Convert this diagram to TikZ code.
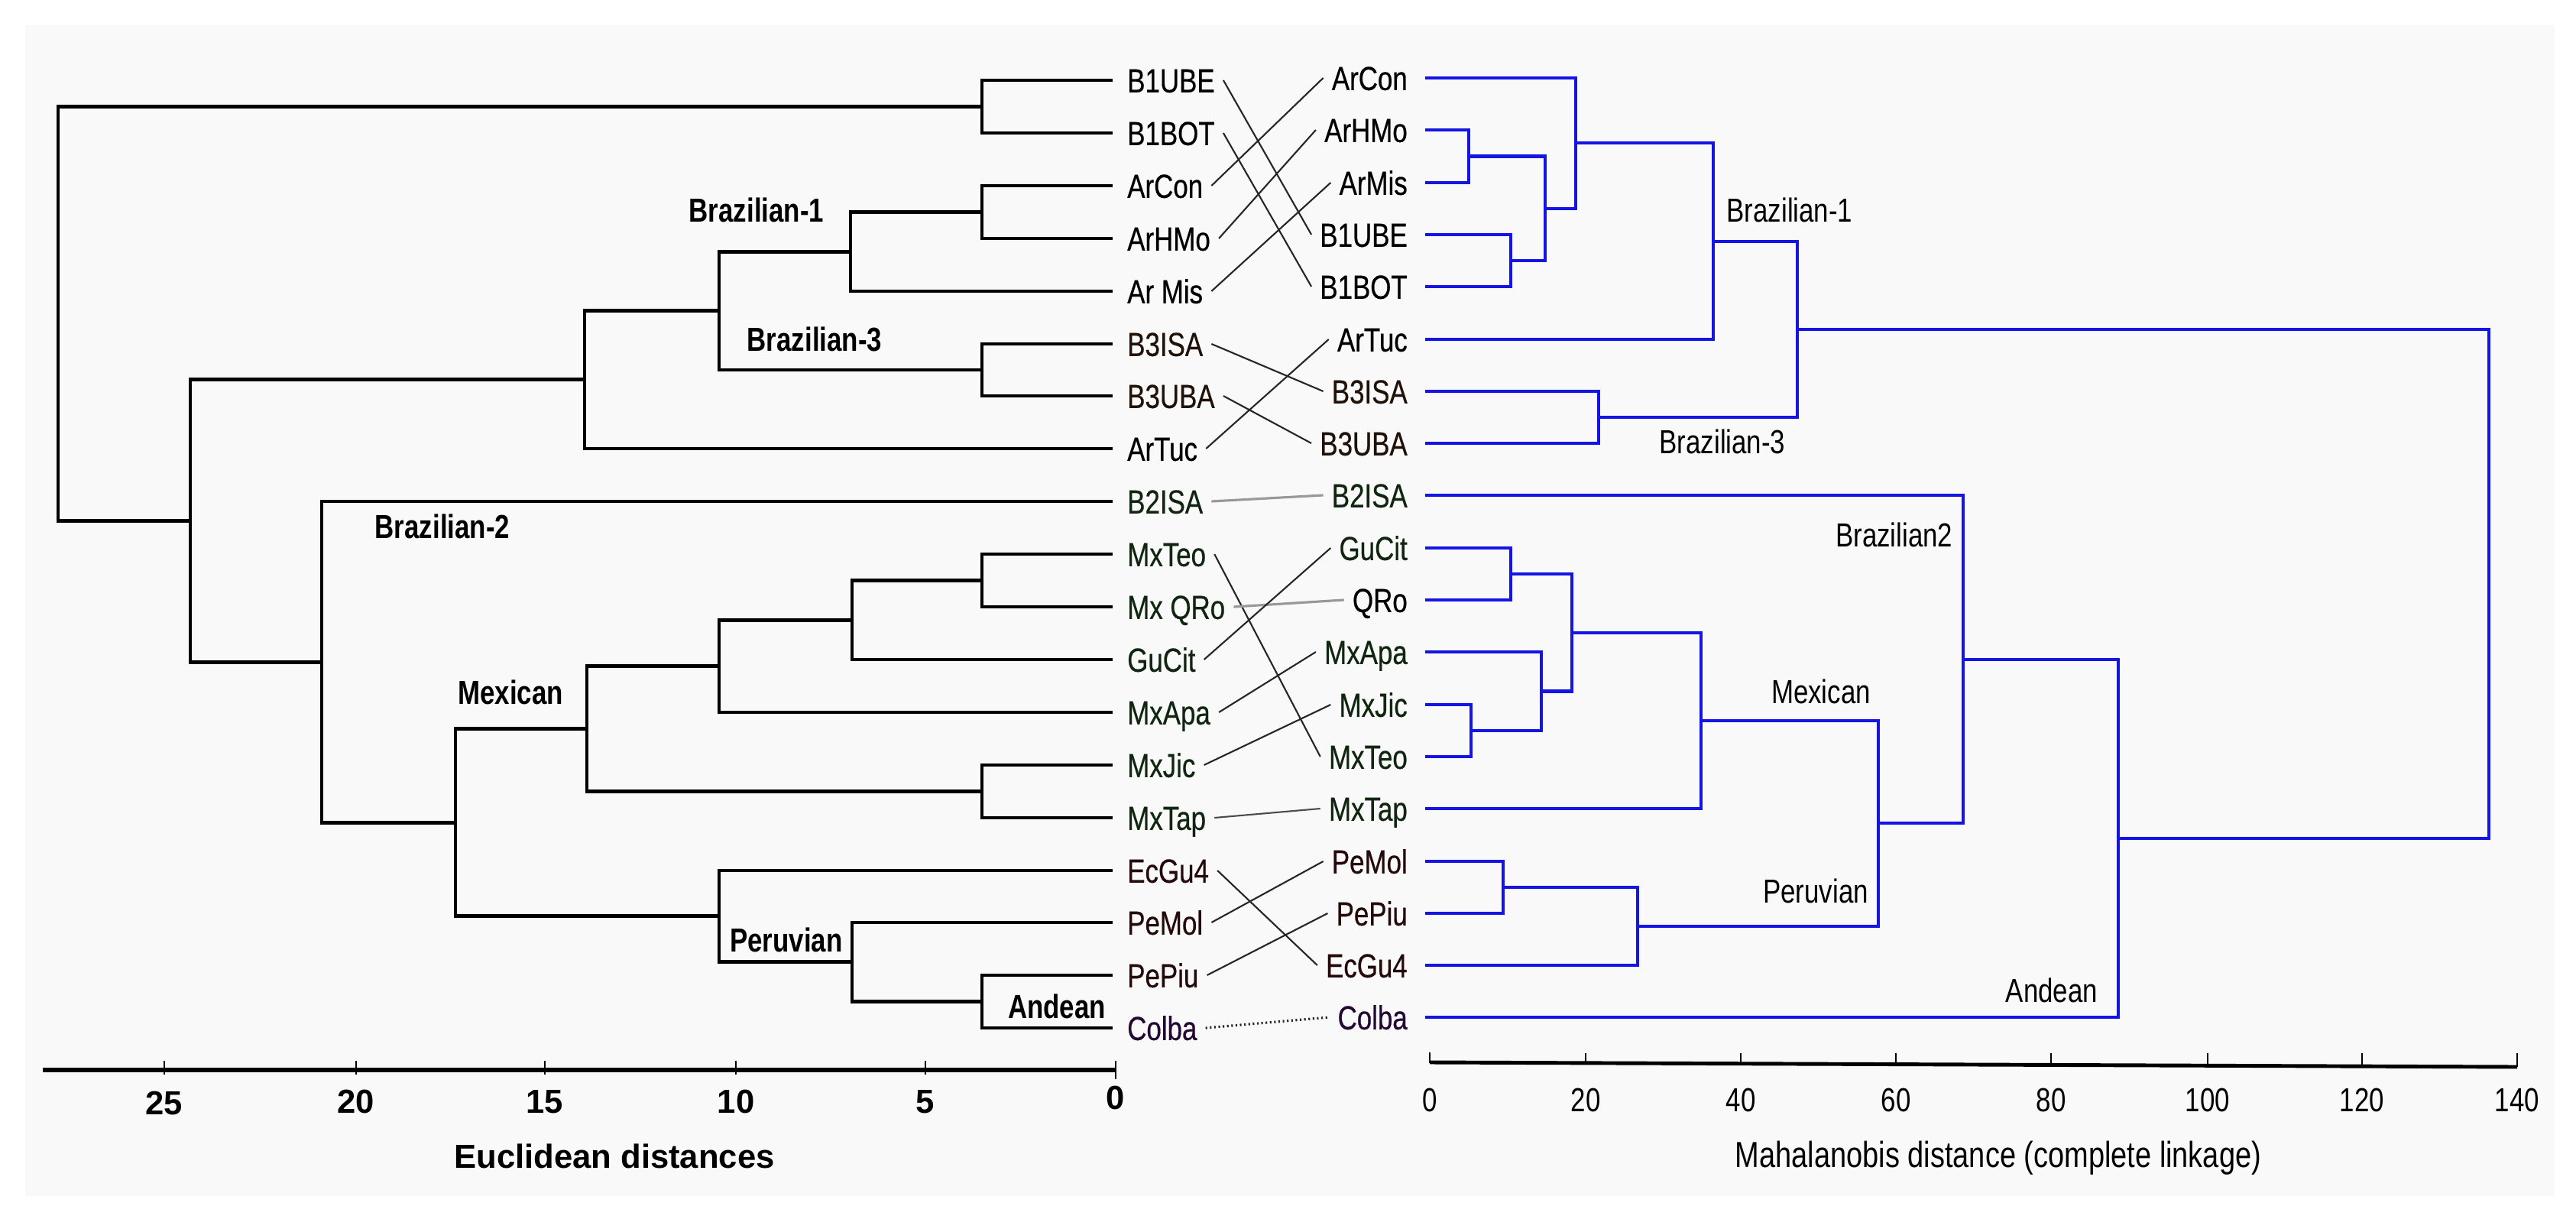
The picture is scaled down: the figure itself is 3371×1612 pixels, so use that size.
\documentclass[tikz,border=0pt]{standalone}
\usepackage{fontspec}
\setmainfont{Liberation Sans}
\newfontfamily\slimfont[FakeStretch=0.8]{Liberation Sans}
\newfontfamily\leaffont[FakeStretch=0.8,FakeBold=0.5]{Liberation Sans}
\usepackage{tikz}
\definecolor{treeblue}{RGB}{20,20,228}
\definecolor{panelgray}{RGB}{249,249,249}
\definecolor{mexgreen}{RGB}{16,38,16}
\definecolor{perured}{RGB}{36,10,10}
\definecolor{brbrown}{RGB}{32,18,8}
\definecolor{colbapurple}{RGB}{36,8,52}
\newcommand*{\Fork}[5]{\draw (#2,#1) -| (#3,#4) -- (#5,#4);}
\tikzset{
  leafl/.style={anchor=west,inner sep=3pt,text height=9pt,text depth=0pt,
    font=\leaffont\fontsize{12.4}{14}\selectfont},
  leafr/.style={leafl,anchor=east},
  grpl/.style={inner sep=0pt,text height=9pt,text depth=0pt,
    font=\slimfont\bfseries\fontsize{12.4}{14}\selectfont},
  grpr/.style={grpl,font=\slimfont\fontsize{12.4}{14}\selectfont},
  numl/.style={inner sep=0pt,text height=9pt,text depth=0pt,
    font=\bfseries\fontsize{12.4}{14}\selectfont},
  numr/.style={numl,font=\slimfont\fontsize{12.4}{14}\selectfont},
  link/.style={black!85,line width=0.6pt},
  palelink/.style={black!40,line width=0.9pt},
  axisl/.style={line width=1.6pt},
  axisr/.style={line width=1.4pt},
  tick/.style={line width=0.7pt}
}
\begin{document}
\begin{tikzpicture}[x=0.01cm,y=-0.01cm]
    \useasboundingbox (0,0) rectangle (3371,1612);
    \fill[panelgray] (33,33) rectangle (3343,1565);
    \begin{scope}[line width=1.4pt]
    \Fork{105}{1456}{1285}{174}{1456}
    \Fork{243}{1456}{1285}{312}{1456}
    \Fork{277.5}{1285}{1113}{381}{1456}
    \Fork{450}{1456}{1285}{518}{1456}
    \Fork{329.25}{1113}{941}{484}{1285}
    \Fork{406.6}{941}{765}{587}{1456}
    \Fork{725}{1456}{1285}{794}{1456}
    \Fork{759.5}{1285}{1115}{863}{1456}
    \Fork{811.25}{1115}{941}{932}{1456}
    \Fork{1001}{1456}{1285}{1070}{1456}
    \Fork{871.6}{941}{768}{1035.5}{1285}
    \Fork{1276}{1456}{1285}{1345}{1456}
    \Fork{1207}{1456}{1115}{1310.5}{1285}
    \Fork{1139}{1456}{941}{1258.75}{1115}
    \Fork{953.55}{768}{596}{1198.9}{941}
    \Fork{656}{1456}{421}{1076.2}{596}
    \Fork{496.8}{765}{249}{866.1}{421}
    \Fork{139.5}{1285}{76}{681.45}{249}
    \end{scope}
    \begin{scope}[treeblue,line width=1.15pt]
    \Fork{170}{1865}{1922}{239}{1865}
    \Fork{307}{1865}{1977}{375}{1865}
    \Fork{204.5}{1922}{2022}{341}{1977}
    \Fork{102}{1865}{2062}{272.75}{2022}
    \Fork{187.4}{2062}{2242}{444}{1865}
    \Fork{512}{1865}{2092}{580}{1865}
    \Fork{315.7}{2242}{2352}{546}{2092}
    \Fork{717}{1865}{1977}{785}{1865}
    \Fork{922}{1865}{1925}{990}{1865}
    \Fork{853}{1865}{2017}{956}{1925}
    \Fork{751}{1977}{2057}{904.5}{2017}
    \Fork{827.75}{2057}{2226}{1058}{1865}
    \Fork{1127}{1865}{1967}{1195}{1865}
    \Fork{1161}{1967}{2143}{1263}{1865}
    \Fork{942.9}{2226}{2458}{1212}{2143}
    \Fork{648}{1865}{2569}{1077.45}{2458}
    \Fork{862.7}{2569}{2772}{1331}{1865}
    \Fork{430.85}{2352}{3257}{1096.85}{2772}
    \end{scope}
    \draw (1464,105) node[leafl] (lB1UBE) {B1UBE};
    \draw (1464,174) node[leafl] (lB1BOT) {B1BOT};
    \draw (1464,243) node[leafl] (lArCon) {ArCon};
    \draw (1464,312) node[leafl] (lArHMo) {ArHMo};
    \draw (1464,381) node[leafl] (lArMis) {Ar Mis};
    \draw (1464,450) node[leafl,brbrown] (lB3ISA) {B3ISA};
    \draw (1464,518) node[leafl,brbrown] (lB3UBA) {B3UBA};
    \draw (1464,587) node[leafl] (lArTuc) {ArTuc};
    \draw (1464,656) node[leafl,mexgreen] (lB2ISA) {B2ISA};
    \draw (1464,725) node[leafl,mexgreen] (lMxTeo) {MxTeo};
    \draw (1464,794) node[leafl,mexgreen] (lMxQRo) {Mx QRo};
    \draw (1464,863) node[leafl,mexgreen] (lGuCit) {GuCit};
    \draw (1464,932) node[leafl,mexgreen] (lMxApa) {MxApa};
    \draw (1464,1001) node[leafl,mexgreen] (lMxJic) {MxJic};
    \draw (1464,1070) node[leafl,mexgreen] (lMxTap) {MxTap};
    \draw (1464,1139) node[leafl,perured] (lEcGu4) {EcGu4};
    \draw (1464,1207) node[leafl,perured] (lPeMol) {PeMol};
    \draw (1464,1276) node[leafl,perured] (lPePiu) {PePiu};
    \draw (1464,1345) node[leafl,colbapurple] (lColba) {Colba};
    \draw (1853,102) node[leafr] (rArCon) {ArCon};
    \draw (1853,170) node[leafr] (rArHMo) {ArHMo};
    \draw (1853,239) node[leafr] (rArMis) {ArMis};
    \draw (1853,307) node[leafr] (rB1UBE) {B1UBE};
    \draw (1853,375) node[leafr] (rB1BOT) {B1BOT};
    \draw (1853,444) node[leafr] (rArTuc) {ArTuc};
    \draw (1853,512) node[leafr,brbrown] (rB3ISA) {B3ISA};
    \draw (1853,580) node[leafr,brbrown] (rB3UBA) {B3UBA};
    \draw (1853,648) node[leafr,mexgreen] (rB2ISA) {B2ISA};
    \draw (1853,717) node[leafr,mexgreen] (rGuCit) {GuCit};
    \draw (1853,785) node[leafr] (rQRo) {QRo};
    \draw (1853,853) node[leafr,mexgreen] (rMxApa) {MxApa};
    \draw (1853,922) node[leafr,mexgreen] (rMxJic) {MxJic};
    \draw (1853,990) node[leafr,mexgreen] (rMxTeo) {MxTeo};
    \draw (1853,1058) node[leafr,mexgreen] (rMxTap) {MxTap};
    \draw (1853,1127) node[leafr,perured] (rPeMol) {PeMol};
    \draw (1853,1195) node[leafr,perured] (rPePiu) {PePiu};
    \draw (1853,1263) node[leafr,perured] (rEcGu4) {EcGu4};
    \draw (1853,1331) node[leafr,colbapurple] (rColba) {Colba};
    \draw[link] (lB1UBE.east) -- (rB1UBE.west);
    \draw[link] (lB1BOT.east) -- (rB1BOT.west);
    \draw[link] (lArCon.east) -- (rArCon.west);
    \draw[link] (lArHMo.east) -- (rArHMo.west);
    \draw[link] (lArMis.east) -- (rArMis.west);
    \draw[link] (lB3ISA.east) -- (rB3ISA.west);
    \draw[link] (lB3UBA.east) -- (rB3UBA.west);
    \draw[link] (lArTuc.east) -- (rArTuc.west);
    \draw[palelink] (lB2ISA.east) -- (rB2ISA.west);
    \draw[link] (lMxTeo.east) -- (rMxTeo.west);
    \draw[palelink] (lMxQRo.east) -- (rQRo.west);
    \draw[link] (lGuCit.east) -- (rGuCit.west);
    \draw[link] (lMxApa.east) -- (rMxApa.west);
    \draw[link] (lMxJic.east) -- (rMxJic.west);
    \draw[link,black!70] (lMxTap.east) -- (rMxTap.west);
    \draw[link] (lEcGu4.east) -- (rEcGu4.west);
    \draw[link] (lPeMol.east) -- (rPeMol.west);
    \draw[link] (lPePiu.east) -- (rPePiu.west);
    \draw[link,densely dotted,line width=0.9pt] (lColba.east) -- (rColba.west);
    \draw (990,275) node[grpl] (gBr1) {Brazilian-1};
    \draw (1066,444) node[grpl] (gBr3) {Brazilian-3};
    \draw (579,689) node[grpl] (gBr2) {Brazilian-2};
    \draw (668,906) node[grpl] (gMex) {Mexican};
    \draw (1029,1230) node[grpl] (gPer) {Peruvian};
    \draw (1383,1317) node[grpl] (gAnd) {Andean};
    \draw (2342,275) node[grpr] (hBr1) {Brazilian-1};
    \draw (2254,578) node[grpr] (hBr3) {Brazilian-3};
    \draw (2556,700) node[grpr,anchor=east] (hBr2) {Brazilian2};
    \draw (2383,905) node[grpr] (hMex) {Mexican};
    \draw (2376,1166) node[grpr] (hPer) {Peruvian};
    \draw (2685,1296) node[grpr] (hAnd) {Andean};
    \draw[axisl] (56,1400) -- (1460,1400);
    \draw[tick] (215,1388) -- (215,1406);
    \draw[tick] (466,1388) -- (466,1406);
    \draw[tick] (713,1388) -- (713,1406);
    \draw[tick] (963,1388) -- (963,1406);
    \draw[tick] (1211,1388) -- (1211,1406);
    \draw[tick] (1460,1388) -- (1460,1412);
    \draw (215,1443) node[numl] (e25) {25};
    \draw (466,1441) node[numl] (e20) {20};
    \draw (713,1441) node[numl] (e15) {15};
    \draw (963,1441) node[numl] (e10) {10};
    \draw (1211,1441) node[numl] (e5) {5};
    \draw (1460,1436) node[numl] (e0) {0};
    \draw (804,1513) node[numl] (etitle) {Euclidean distances};
    \draw[axisr] (1871,1390) -- (3294,1396);
    \draw[tick] (1871,1377) -- (1871,1391);
    \draw[tick] (2075,1378) -- (2075,1391);
    \draw[tick] (2278,1378) -- (2278,1392);
    \draw[tick] (2481,1378) -- (2481,1393);
    \draw[tick] (2684,1378) -- (2684,1394);
    \draw[tick] (2889,1378) -- (2889,1394);
    \draw[tick] (3091,1378) -- (3091,1395);
    \draw[tick] (3294,1378) -- (3294,1396);
    \draw (1871,1439) node[numr] (m0) {0};
    \draw (2075,1439) node[numr] (m20) {20};
    \draw (2278,1439) node[numr] (m40) {40};
    \draw (2481,1439) node[numr] (m60) {60};
    \draw (2684,1439) node[numr] (m80) {80};
    \draw (2889,1439) node[numr] (m100) {100};
    \draw (3091,1439) node[numr] (m120) {120};
    \draw (3294,1439) node[numr] (m140) {140};
    \draw (2615,1512) node[numr,font=\slimfont\fontsize{13.5}{15}\selectfont] (mtitle) {Mahalanobis distance (complete linkage)};
  \end{tikzpicture}
\end{document}
